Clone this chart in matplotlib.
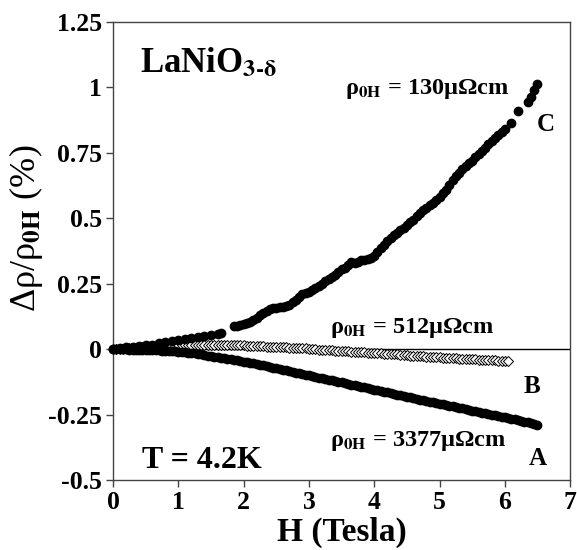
"""Magnetoresistance of LaNiO3-d films at 4.2 K, three samples A/B/C.
Writes out.png.
"""
import matplotlib; matplotlib.use("Agg")
import matplotlib.pyplot as plt

INK = "#000000"; SPINE = "#444444"

plt.rcParams.update({
    "font.family": "serif", "font.serif": ["Liberation Serif", "DejaVu Serif"],
    "font.weight": "bold", "font.size": 18.5,
    "axes.labelweight": "bold",
    "axes.edgecolor": SPINE, "axes.linewidth": 1.0,
    "xtick.color": SPINE, "ytick.color": SPINE,
    "xtick.labelcolor": INK, "ytick.labelcolor": INK,
    "figure.facecolor": "white",
})

# sample A, rho_0H = 3377 uOhm cm (filled, dense)
a_h = [0.00, 0.05, 0.10, 0.15, 0.20, 0.25, 0.30, 0.35, 0.40, 0.45, 0.50, 0.55, 0.60,
       0.65, 0.70, 0.75, 0.80, 0.85, 0.90, 0.95, 1.00, 1.05, 1.10, 1.15, 1.20, 1.25,
       1.30, 1.35, 1.40, 1.45, 1.50, 1.55, 1.60, 1.65, 1.70, 1.75, 1.80, 1.85, 1.90,
       1.95, 2.00, 2.05, 2.10, 2.15, 2.20, 2.25, 2.30, 2.35, 2.40, 2.45, 2.50, 2.55,
       2.60, 2.65, 2.70, 2.75, 2.80, 2.85, 2.90, 2.95, 3.00, 3.05, 3.10, 3.15, 3.20,
       3.25, 3.30, 3.35, 3.40, 3.45, 3.50, 3.55, 3.60, 3.65, 3.70, 3.75, 3.80, 3.85,
       3.90, 3.95, 4.00, 4.05, 4.10, 4.15, 4.20, 4.25, 4.30, 4.35, 4.40, 4.45, 4.50,
       4.55, 4.60, 4.65, 4.70, 4.75, 4.80, 4.85, 4.90, 4.95, 5.00, 5.05, 5.10, 5.15,
       5.20, 5.25, 5.30, 5.35, 5.40, 5.45, 5.50, 5.55, 5.60, 5.65, 5.70, 5.75, 5.80,
       5.85, 5.90, 5.95, 6.00, 6.05, 6.10, 6.15, 6.20, 6.25, 6.30, 6.35, 6.40, 6.45,
       6.50]
a_mr = [0.000, 0.000, 0.000, 0.000, 0.000, -0.001, -0.001, -0.001, -0.001, -0.002,
        -0.002, -0.003, -0.003, -0.004, -0.004, -0.005, -0.006, -0.006, -0.007, -0.008,
        -0.009, -0.010, -0.012, -0.013, -0.015, -0.016, -0.018, -0.020, -0.022, -0.024,
        -0.026, -0.028, -0.030, -0.032, -0.034, -0.036, -0.038, -0.040, -0.042, -0.045,
        -0.047, -0.049, -0.052, -0.054, -0.057, -0.060, -0.062, -0.065, -0.067, -0.070,
        -0.072, -0.075, -0.078, -0.080, -0.083, -0.086, -0.089, -0.091, -0.094, -0.097,
        -0.100, -0.102, -0.105, -0.108, -0.110, -0.113, -0.116, -0.118, -0.121, -0.124,
        -0.127, -0.129, -0.132, -0.135, -0.138, -0.140, -0.143, -0.146, -0.149, -0.151,
        -0.154, -0.157, -0.160, -0.162, -0.165, -0.168, -0.171, -0.173, -0.176, -0.179,
        -0.182, -0.184, -0.187, -0.189, -0.192, -0.195, -0.197, -0.200, -0.203, -0.205,
        -0.208, -0.210, -0.213, -0.216, -0.218, -0.221, -0.224, -0.226, -0.229, -0.231,
        -0.234, -0.237, -0.239, -0.242, -0.245, -0.247, -0.250, -0.253, -0.255, -0.258,
        -0.260, -0.263, -0.266, -0.268, -0.271, -0.274, -0.277, -0.279, -0.282, -0.285,
        -0.288]

# sample B, rho_0H = 512 uOhm cm (open diamonds)
b_h = [0.00, 0.05, 0.10, 0.15, 0.20, 0.25, 0.30, 0.35, 0.40, 0.45, 0.50, 0.55, 0.60,
       0.65, 0.70, 0.75, 0.80, 0.85, 0.90, 0.95, 1.00, 1.05, 1.10, 1.15, 1.20, 1.25,
       1.30, 1.35, 1.40, 1.45, 1.50, 1.55, 1.60, 1.65, 1.70, 1.75, 1.80, 1.85, 1.90,
       1.95, 2.00, 2.05, 2.10, 2.15, 2.20, 2.25, 2.30, 2.35, 2.40, 2.45, 2.50, 2.55,
       2.60, 2.65, 2.70, 2.75, 2.80, 2.85, 2.90, 2.95, 3.00, 3.05, 3.10, 3.15, 3.20,
       3.25, 3.30, 3.35, 3.40, 3.45, 3.50, 3.55, 3.60, 3.65, 3.70, 3.75, 3.80, 3.85,
       3.90, 3.95, 4.00, 4.05, 4.10, 4.15, 4.20, 4.25, 4.30, 4.35, 4.40, 4.45, 4.50,
       4.55, 4.60, 4.65, 4.70, 4.75, 4.80, 4.85, 4.90, 4.95, 5.00, 5.05, 5.10, 5.15,
       5.20, 5.25, 5.30, 5.35, 5.40, 5.45, 5.50, 5.55, 5.60, 5.65, 5.70, 5.75, 5.80,
       5.85, 5.90, 5.95, 6.00, 6.05]
b_mr = [0.000, 0.001, 0.002, 0.002, 0.003, 0.004, 0.005, 0.005, 0.006, 0.007, 0.008,
        0.008, 0.009, 0.010, 0.011, 0.011, 0.012, 0.013, 0.014, 0.014, 0.015, 0.015,
        0.016, 0.016, 0.017, 0.017, 0.018, 0.018, 0.018, 0.018, 0.018, 0.018, 0.018,
        0.018, 0.018, 0.017, 0.017, 0.016, 0.016, 0.015, 0.015, 0.014, 0.014, 0.013,
        0.012, 0.012, 0.011, 0.010, 0.010, 0.009, 0.009, 0.008, 0.008, 0.007, 0.006,
        0.006, 0.005, 0.004, 0.004, 0.003, 0.002, 0.001, 0.000, -0.001, -0.002, -0.002,
        -0.003, -0.004, -0.005, -0.005, -0.006, -0.007, -0.008, -0.009, -0.010, -0.010,
        -0.011, -0.012, -0.013, -0.013, -0.014, -0.015, -0.016, -0.017, -0.018, -0.019,
        -0.020, -0.020, -0.021, -0.022, -0.023, -0.024, -0.025, -0.025, -0.026, -0.027,
        -0.028, -0.029, -0.030, -0.030, -0.031, -0.032, -0.033, -0.033, -0.034, -0.035,
        -0.036, -0.036, -0.037, -0.038, -0.039, -0.039, -0.040, -0.040, -0.041, -0.041,
        -0.042, -0.042, -0.043, -0.043, -0.044, -0.045]

# sample C, rho_0H = 130 uOhm cm (filled circles)
c_h = [0.0, 0.1, 0.2, 0.3, 0.4, 0.5, 0.6, 0.7, 0.8, 0.9, 1.0, 1.1, 1.2, 1.3, 1.4, 1.5,
       1.6, 1.65, 1.85, 1.90, 1.95, 2.00, 2.05, 2.10, 2.15, 2.20, 2.25, 2.30, 2.35,
       2.40, 2.45, 2.50, 2.55, 2.60, 2.65, 2.70, 2.75, 2.80, 2.85, 2.90, 2.95, 3.00,
       3.05, 3.10, 3.15, 3.20, 3.25, 3.30, 3.35, 3.40, 3.45, 3.50, 3.55, 3.60, 3.65,
       3.70, 3.75, 3.80, 3.85, 3.90, 3.95, 4.00, 4.05, 4.10, 4.15, 4.20, 4.25, 4.30,
       4.35, 4.40, 4.45, 4.50, 4.55, 4.60, 4.65, 4.70, 4.75, 4.80, 4.85, 4.90, 4.95,
       5.00, 5.05, 5.10, 5.15, 5.20, 5.25, 5.30, 5.35, 5.40, 5.45, 5.50, 5.55, 5.60,
       5.65, 5.70, 5.75, 5.80, 5.85, 5.90, 5.95, 6.00, 6.10, 6.20, 6.35, 6.40, 6.45,
       6.50]
c_mr = [0.000, 0.005, 0.008, 0.010, 0.012, 0.015, 0.018, 0.022, 0.026, 0.030, 0.034,
        0.038, 0.043, 0.048, 0.052, 0.056, 0.060, 0.062, 0.088, 0.090, 0.092, 0.095,
        0.100, 0.105, 0.112, 0.120, 0.130, 0.140, 0.148, 0.155, 0.157, 0.158, 0.160,
        0.163, 0.166, 0.170, 0.180, 0.190, 0.200, 0.210, 0.215, 0.220, 0.228, 0.235,
        0.242, 0.250, 0.259, 0.268, 0.276, 0.285, 0.295, 0.305, 0.312, 0.320, 0.335,
        0.330, 0.335, 0.340, 0.342, 0.345, 0.350, 0.355, 0.370, 0.385, 0.400, 0.415,
        0.425, 0.435, 0.445, 0.455, 0.465, 0.475, 0.485, 0.495, 0.508, 0.520, 0.530,
        0.540, 0.550, 0.560, 0.570, 0.580, 0.595, 0.610, 0.628, 0.645, 0.660, 0.675,
        0.688, 0.700, 0.710, 0.720, 0.733, 0.745, 0.758, 0.770, 0.783, 0.795, 0.808,
        0.820, 0.830, 0.840, 0.865, 0.910, 0.945, 0.965, 0.990, 1.015]

x_ticks = [0, 1, 2, 3, 4, 5, 6, 7]
y_ticks = [-0.5, -0.25, 0, 0.25, 0.5, 0.75, 1, 1.25]
y_tick_labels = ["-0.5", "-0.25", "0", "0.25", "0.5", "0.75", "1", "1.25"]

fig = plt.figure(figsize=(5.77, 5.5), dpi=100)
ax = fig.add_axes([0.196, 0.127, 0.792, 0.833])

ax.axhline(0, color=INK, lw=1.0, zorder=1)
ax.plot(a_h, a_mr, "o", color=INK, ms=6.0, zorder=3, clip_on=False)
ax.plot(b_h, b_mr, "D", mfc="white", mec=INK, mew=0.7, ms=5.5, zorder=2)
ax.plot(c_h, c_mr, "o", color=INK, ms=6, zorder=4, clip_on=False)

ax.set_xlim(0, 7)
ax.set_ylim(-0.5, 1.25)
ax.set_xticks(x_ticks)
ax.set_yticks(y_ticks)
ax.set_yticklabels(y_tick_labels)
ax.tick_params(direction="out", length=5, width=1.0, pad=3)

ax.set_xlabel("H (Tesla)", fontsize=24, labelpad=2)
ax.set_ylabel(r"Δρ/ρ$_{\mathbf{0H}}$ (%)", fontsize=26, fontweight="normal",
              math_fontfamily="stix")
ax.yaxis.set_label_coords(-0.15, 0.55)

kw = dict(math_fontfamily="stix", ha="left", va="baseline")
ax.text(0.41, 1.057, r"LaNiO$_{\mathbf{3\text{-}δ}}$", fontsize=25, **kw)
ax.text(3.55, 0.975, r"ρ$_{\mathbf{0H}}$ = 130μΩcm", fontsize=17.5, **kw)
ax.text(3.32, 0.061, r"ρ$_{\mathbf{0H}}$ = 512μΩcm", fontsize=17.5, **kw)
ax.text(3.32, -0.368, r"ρ$_{\mathbf{0H}}$ = 3377μΩcm", fontsize=17.5, **kw)
ax.text(6.49, 0.835, "C", fontsize=18, **kw)
ax.text(6.29, -0.169, "B", fontsize=18, **kw)
ax.text(6.36, -0.444, "A", fontsize=18, **kw)
ax.text(0.44, -0.452, "T = 4.2K", fontsize=23, **kw)

fig.savefig("out.png", dpi=100)
